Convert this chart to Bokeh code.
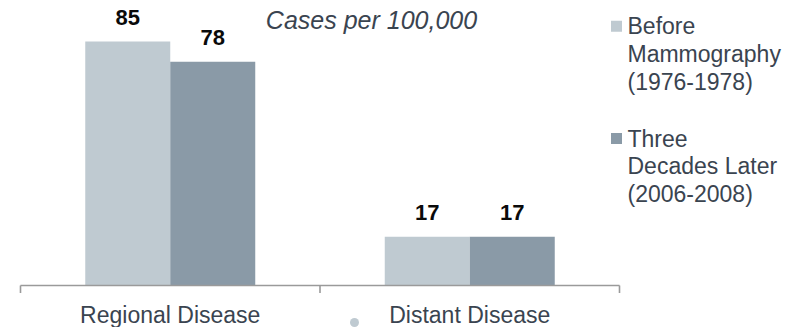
from bokeh.plotting import figure
from bokeh.models import Range1d
from bokeh.core.properties import value
from bokeh.embed import file_html
from bokeh.resources import INLINE

# ---- data ----
categories = ["Regional Disease", "Distant Disease"]
series_names = ["Before\nMammography\n(1976-1978)", "Three\nDecades Later\n(2006-2008)"]
before_vals = [85, 17]
later_vals = [78, 17]
chart_title = "Cases per 100,000"

# ---- layout helpers (canvas pixels -> data units) ----
W, H = 804, 327
X0 = 20.0        # left end of category axis (px)
CAT_PX = 299.5   # width of one category (px)
BASE = 285.0     # baseline (px from top)
K = 2.87         # px per value unit

def dx(px):
    return (px - X0) / CAT_PX

def dy(py):
    return (BASE - py) / K

LIGHT = "#BFCAD1"
DARK = "#8A9AA7"
TXT = "#3A4450"
FONT = value("Liberation Sans")

p = figure(width=W, height=H, output_backend="svg", toolbar_location=None,
           x_range=Range1d(dx(0), dx(W)), y_range=Range1d(dy(H), dy(0)),
           min_border=0, outline_line_color=None)
p.axis.visible = False
p.grid.visible = False
p.background_fill_color = "white"
p.border_fill_color = "white"

n = len(categories)
centers = [i + 0.5 for i in range(n)]
bw = 85.0 / CAT_PX
xb = [c - bw / 2 for c in centers]
xl = [c + bw / 2 for c in centers]

p.vbar(x=xb, top=before_vals, bottom=0, width=bw, fill_color=LIGHT, line_color=None)
p.vbar(x=xl, top=later_vals, bottom=0, width=bw, fill_color=DARK, line_color=None)

# value labels
for xs, vals in ((xb, before_vals), (xl, later_vals)):
    p.text(x=xs, y=vals, text=[str(v) for v in vals], y_offset=-24,
           text_align="center", text_baseline="middle",
           text_font=FONT, text_font_size="22px", text_font_style="bold",
           text_color="#0A0A0A")

# category axis
AX = "#9A9A9A"
p.segment(x0=[0], y0=[0], x1=[n], y1=[0], line_color=AX, line_width=1.6)
p.segment(x0=list(range(n + 1)), y0=[0] * (n + 1), x1=list(range(n + 1)),
          y1=[dy(292.5)] * (n + 1), line_color=AX, line_width=1.6)
p.text(x=centers, y=[0] * n, text=categories, y_offset=29,
       text_align="center", text_baseline="middle",
       text_font=FONT, text_font_size="23px", text_color=TXT)

# stray bullet dot
p.scatter(x=[dx(354)], y=[dy(322)], size=9, marker="circle",
          fill_color=LIGHT, line_color=None)

# title
p.text(x=[dx(371)], y=[dy(19.7)], text=[chart_title], text_align="center",
       text_baseline="middle", text_font=FONT, text_font_size="25px",
       text_font_style="italic", text_color=TXT)

# legend
leg_mids = [25.8, 138.0]
line_gap = 27.6
for name, color, mid in zip(series_names, [LIGHT, DARK], leg_mids):
    p.scatter(x=[dx(616)], y=[dy(mid)], size=11, marker="square",
              fill_color=color, line_color=None)
    lines = name.split("\n")
    p.text(x=[dx(627)] * len(lines),
           y=[dy(mid + i * line_gap) for i in range(len(lines))],
           text=lines, text_align="left", text_baseline="middle",
           text_font=FONT, text_font_size="23px", text_color=TXT)

open("out.html", "w").write(file_html(p, INLINE))
